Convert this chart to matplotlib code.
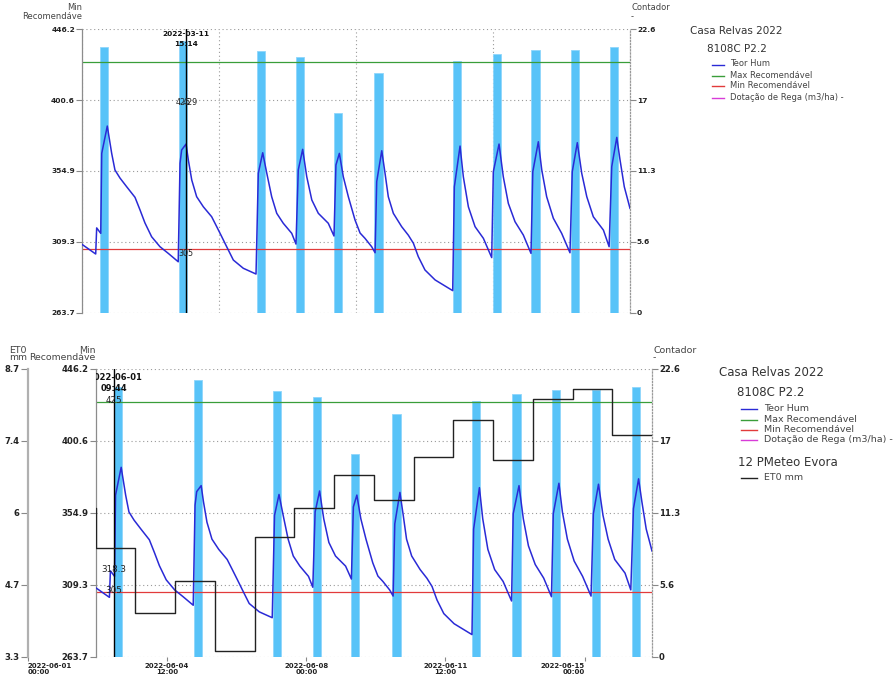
import numpy as np
import pandas as pd
import matplotlib
matplotlib.use("Agg")
import matplotlib.pyplot as plt
from matplotlib.lines import Line2D

W, H = 894, 678

# ---------------- data ----------------
start = pd.Timestamp("2022-06-01 00:00")
end = pd.Timestamp("2022-06-15 00:00")

# soil moisture probe (Teor Hum), hours since 2022-06-01 00:00
hum_hours = [0, 8.4, 9.0, 11.5, 12.1, 15.5, 18.2, 20.2, 23.3, 27.4, 32.5, 35.6, 38.6, 42.7,
             47.8, 52.9, 59.0, 60.1, 61.1, 63.8, 65.2, 67.3, 70.3, 74.4, 79.5, 82.6, 85.7,
             88.7, 92.8, 98.9, 106.7, 108.1, 110.8, 113.3, 116.3, 119.4, 123.4, 128.6,
             131.2, 132.6, 135.3, 137.8, 140.9, 144.9, 151.0, 154.5, 155.7, 157.8, 160.2,
             163.3, 167.4, 170.5, 173.5, 177.6, 179.7, 180.7, 183.8, 185.8, 187.8, 190.9,
             196.0, 200.1, 203.2, 206.2, 210.3, 216.5, 222.6, 227.3, 228.3, 231.8, 233.8,
             236.9, 241.0, 246.1, 251.2, 252.2, 255.7, 258.3, 261.4, 265.5, 270.6, 275.3,
             276.4, 279.8, 281.9, 284.9, 289.0, 294.1, 299.2, 300.6, 303.7, 306.4, 309.5,
             313.5, 319.7, 323.2, 324.8, 327.9, 329.9, 332.5, 336.0]
hum_values = [307.7, 301.5, 318.3, 314.8, 366.3, 383.9, 366.3, 355.6, 350.4, 344.8, 338.0,
              329.8, 321.5, 312.6, 306.2, 301.9, 296.5, 359.9, 368.5, 372.3, 362.0, 349.1,
              338.4, 331.9, 325.5, 319.1, 312.6, 306.2, 297.6, 292.3, 288.6, 353.5, 366.7,
              353.5, 338.4, 327.7, 321.3, 314.8, 307.9, 355.6, 368.9, 351.3, 336.3, 327.7,
              321.3, 313.1, 358.8, 366.3, 351.3, 338.4, 323.4, 315.0, 311.6, 306.2, 302.3,
              348.1, 368.0, 353.5, 338.4, 327.7, 319.1, 313.6, 308.4, 299.8, 291.2, 284.8,
              280.9, 277.9, 344.8, 371.0, 351.3, 331.9, 319.1, 311.6, 299.2, 354.5, 372.3,
              351.3, 334.1, 322.3, 313.7, 301.9, 354.5, 373.8, 355.6, 338.4, 324.5, 314.8,
              302.3, 354.5, 373.2, 353.5, 338.4, 325.5, 316.9, 306.2, 357.7, 376.6, 362.0,
              344.8, 330.9]

# irrigation counter (Contador)
rega_hours = [13.6, 61.9, 109.6, 133.7, 156.8, 181.8, 229.8, 254.2, 278.1, 302.3, 326.3]
rega_values = [21.2, 21.7, 20.9, 20.4, 15.9, 19.1, 20.1, 20.65, 20.95, 20.95, 21.2]
rega_duration_h = 5.0

# daily reference evapotranspiration (ET0 mm), PMeteo Evora
et0_dates = pd.date_range("2022-05-31", "2022-06-14", freq="D")
et0_values = [6.1, 5.34, 4.13, 4.72, 3.41, 5.55, 6.09, 6.72, 6.24, 7.05, 7.74, 6.99,
              8.14, 8.33, 7.47]

max_rec = 425
min_rec = 305

hum_lim = (263.7, 446.2)
cont_lim = (0, 22.6)
et0_lim = (3.3, 8.7)
hum_tick_labels = ["263.7", "309.3", "354.9", "400.6", "446.2"]
cont_tick_labels = ["0", "5.6", "11.3", "17", "22.6"]
et0_tick_labels = ["3.3", "4.7", "6", "7.4", "8.7"]
date_ticks = pd.to_datetime(["2022-06-01 00:00", "2022-06-04 12:00", "2022-06-08 00:00",
                             "2022-06-11 12:00", "2022-06-15 00:00"])
date_tick_labels = ["2022-06-01\n00:00", "2022-06-04\n12:00", "2022-06-08\n00:00",
                    "2022-06-11\n12:00", "2022-06-15\n00:00"]

legend_items = ["Teor Hum", "Max Recomendável", "Min Recomendável", "Dotação de Rega (m3/ha) -"]

C_HUM = "#2a2ad6"
C_BAR = "#58c3f8"
C_MAX = "#3a9e3a"
C_MIN = "#e23b3b"
C_DOT = "#d83cd8"
C_ET0 = "#222222"
C_GRID = "#9a9a9a"
C_TXT = "#222222"
C_LEG = "#444444"

hum_t = start + pd.to_timedelta(hum_hours, unit="h")
rega_t = start + pd.to_timedelta(rega_hours, unit="h")
bar_w = rega_duration_h / 24.0

fig = plt.figure(figsize=(W / 100, H / 100), dpi=100)
fig.patch.set_facecolor("white")


def px_axes(left, top, right, bottom, **kw):
    return fig.add_axes([left / W, 1 - bottom / H, (right - left) / W, (bottom - top) / H], **kw)


def ftext(x, y, s, **kw):
    fig.text(x / W, 1 - y / H, s, **kw)


def fline(x0, x1, y, color):
    fig.add_artist(Line2D([x0 / W, x1 / W], [1 - y / H, 1 - y / H],
                          transform=fig.transFigure, color=color, lw=1.0))


def style_date_ticks(ax, size):
    ax.set_xticks(date_ticks, date_tick_labels)
    labels = ax.get_xticklabels()
    for i, lbl in enumerate(labels):
        lbl.set_fontweight("bold")
        lbl.set_fontsize(size)
        lbl.set_color(C_TXT)
        lbl.set_linespacing(1.05)
        if i == 0:
            lbl.set_ha("left"); lbl.set_multialignment("left")
        elif i == len(labels) - 1:
            lbl.set_ha("right"); lbl.set_multialignment("right")
        else:
            lbl.set_ha("center"); lbl.set_multialignment("center")
    ax.tick_params(axis="x", length=3, width=0.8, color="#888888", pad=1.5)


def panel(box, s, show_dates, cap_y, cap_ls):
    left, top, right, bottom = box
    axb = px_axes(left, top, right, bottom)
    ax = axb.twinx()
    axb.set_zorder(1)
    ax.set_zorder(2)
    axb.patch.set_visible(False)
    ax.patch.set_visible(False)

    # irrigation bars on the right-hand scale
    axb.bar(rega_t, rega_values, width=bar_w, color=C_BAR, edgecolor="#8fd6fb",
            linewidth=0.6, zorder=2)
    axb.set_ylim(*cont_lim)
    axb.set_xlim(start, end)
    axb.yaxis.tick_right()
    axb.set_yticks(np.linspace(*cont_lim, 5), cont_tick_labels)
    axb.tick_params(axis="y", length=4, width=0.8, color="#888888", pad=1,
                    labelsize=5.4 * s, labelcolor=C_TXT)
    for lbl in axb.get_yticklabels():
        lbl.set_fontweight("bold")
    axb.set_axisbelow(True)
    axb.grid(True, color=C_GRID, linestyle=(0, (1, 2.5)), linewidth=0.8)
    for k in ("top", "bottom", "left"):
        axb.spines[k].set_visible(False)
    axb.spines["right"].set_color("#999999")
    axb.spines["right"].set_linestyle((0, (1, 1.5)))
    axb.spines["right"].set_linewidth(0.9)

    # moisture and thresholds on the left-hand scale
    ax.yaxis.tick_left()
    ax.plot(hum_t, hum_values, color=C_HUM, lw=1.1, zorder=3)
    ax.axhline(max_rec, color=C_MAX, lw=0.9, zorder=2)
    ax.axhline(min_rec, color=C_MIN, lw=0.9, zorder=2)
    ax.set_ylim(*hum_lim)
    ax.set_xlim(start, end)
    ax.set_yticks(np.linspace(*hum_lim, 5), hum_tick_labels)
    ax.tick_params(axis="y", length=4, width=0.8, color="#888888", pad=1,
                   labelsize=5.4 * s, labelcolor=C_TXT)
    for lbl in ax.get_yticklabels():
        lbl.set_fontweight("bold")
    for k in ("top", "bottom", "right"):
        ax.spines[k].set_visible(False)
    ax.spines["left"].set_color("#8c8c8c")
    ax.spines["left"].set_linewidth(0.9)

    if show_dates:
        style_date_ticks(ax, 4.5 * s)
    else:
        ax.set_xticks([])
    axb.tick_params(axis="x", length=0, labelbottom=False)

    # axis captions
    ftext(left, cap_y, "Min\nRecomendáve", ha="right", va="top", multialignment="right",
          fontsize=6 * s, color=C_LEG, linespacing=cap_ls)
    ftext(right + 1, cap_y, "Contador\n-", ha="left", va="top", multialignment="left",
          fontsize=6 * s, color=C_LEG, linespacing=cap_ls)
    return ax, axb


# ---------------- top panel ----------------
top_box = (82, 29.3, 630, 312.7)
ax1, axb1 = panel(top_box, 1.0, True, 3.0, 0.95)

cur1 = start + pd.Timedelta(hours=63.95)
ax1.axvline(cur1, color="black", lw=1.0, zorder=4)
ax1.text(cur1, 0.982, "2022-03-11", transform=ax1.get_xaxis_transform(), ha="center",
         va="center", fontsize=5.3, fontweight="bold", color="#111111", zorder=5)
ax1.text(cur1, 0.947, "15:14", transform=ax1.get_xaxis_transform(), ha="center",
         va="center", fontsize=5.3, fontweight="bold", color="#111111", zorder=5)
ax1.text(cur1 - pd.Timedelta(hours=2), 0.742, "425", transform=ax1.get_xaxis_transform(),
         ha="center", va="center", fontsize=5.8, color="#222222", zorder=5)
ax1.text(cur1 + pd.Timedelta(hours=2.5), 0.742, "429", transform=ax1.get_xaxis_transform(),
         ha="center", va="center", fontsize=5.8, color="#222222", zorder=5)
ax1.annotate(str(min_rec), (cur1, min_rec), xytext=(0, -3.5), textcoords="offset points",
             ha="center", va="center", fontsize=5.8, color="#222222", zorder=5)

ftext(690, 31, "Casa Relvas 2022", ha="left", va="center", fontsize=7.5, color="#333333")
ftext(707, 49, "8108C P2.2", ha="left", va="center", fontsize=7.5, color="#333333")
for name, col, y in zip(legend_items, [C_HUM, C_MAX, C_MIN, C_DOT], [64, 75, 85, 97]):
    fline(712, 724, y + 1, col)
    ftext(730, y, name, ha="left", va="center", fontsize=6.0, color=C_LEG)

# ---------------- bottom panel ----------------
bot_box = (95.5, 369, 652, 657)
s2 = 1.13
ax2, axb2 = panel(bot_box, s2, False, 346.0, 0.72)

# ET0 on its own outer scale; the last daily value holds to the end of the range
axe = ax2.twinx()
axe.set_zorder(3)
axe.patch.set_visible(False)
et0_x = list(et0_dates) + [end]
et0_y = list(et0_values) + [et0_values[-1]]
axe.plot(et0_x, et0_y, drawstyle="steps-post", color=C_ET0, lw=1.0)
axe.set_ylim(*et0_lim)
axe.set_xlim(start, end)
axe.spines["left"].set_position(("axes", (28 - 95.5) / (652 - 95.5)))
axe.spines["left"].set_color("#b0b0b0")
axe.spines["left"].set_linewidth(1.6)
for k in ("top", "bottom", "right"):
    axe.spines[k].set_visible(False)
axe.yaxis.tick_left()
axe.set_yticks(np.linspace(*et0_lim, 5), et0_tick_labels)
axe.tick_params(axis="y", length=5, width=0.8, color="#888888", pad=1,
                labelsize=5.4 * s2, labelcolor=C_TXT)
for lbl in axe.get_yticklabels():
    lbl.set_fontweight("bold")
axe.set_xticks([])

# date scale of the lower panel runs from the ET0 spine
days_per_px = 14.0 / (652 - 95.5)
axd = px_axes(28, 369, 652, 657)
axd.set_zorder(0)
axd.patch.set_visible(False)
for sp in axd.spines.values():
    sp.set_visible(False)
axd.set_yticks([])
axd.set_xlim(start, start + pd.Timedelta(days=(652 - 28) * days_per_px))
style_date_ticks(axd, 4.5 * s2)

cur2 = start + pd.Timedelta(hours=11.2)
ax2.axvline(cur2, color="black", lw=1.0, zorder=4)
ax2.text(cur2 + pd.Timedelta(hours=1), 0.971, "2022-06-01", transform=ax2.get_xaxis_transform(),
         ha="center", va="center", fontsize=6.0, fontweight="bold", color="#111111",
         zorder=5, clip_on=True)
ax2.text(cur2, 0.933, "09:44", transform=ax2.get_xaxis_transform(), ha="center",
         va="center", fontsize=6.0, fontweight="bold", color="#111111", zorder=5)
ax2.text(cur2, max_rec + 1.5, str(max_rec), ha="center", va="center", fontsize=6.3,
         color="#222222", zorder=5)
ax2.text(cur2, 318.3 + 1, "318.3", ha="center", va="center", fontsize=6.3,
         color="#222222", zorder=5)
ax2.text(cur2, min_rec + 0.7, str(min_rec), ha="center", va="center", fontsize=6.3,
         color="#222222", zorder=5)

ftext(18, 346.0, "ET0\nmm", ha="center", va="top", multialignment="center",
      fontsize=6 * s2, color=C_LEG, linespacing=0.72)

ftext(719, 373, "Casa Relvas 2022", ha="left", va="center", fontsize=8.5, color="#333333")
ftext(737, 392, "8108C P2.2", ha="left", va="center", fontsize=8.5, color="#333333")
for name, col, y in zip(legend_items, [C_HUM, C_MAX, C_MIN, C_DOT], [408, 419, 429, 439]):
    fline(741, 757, y + 1, col)
    ftext(764, y, name, ha="left", va="center", fontsize=6.8, color=C_LEG)
ftext(738, 462, "12 PMeteo Evora", ha="left", va="center", fontsize=8.5, color="#333333")
fline(741, 757, 478, C_ET0)
ftext(764, 477, "ET0 mm", ha="left", va="center", fontsize=6.8, color=C_LEG)

fig.savefig("out.png", dpi=100, facecolor="white")
